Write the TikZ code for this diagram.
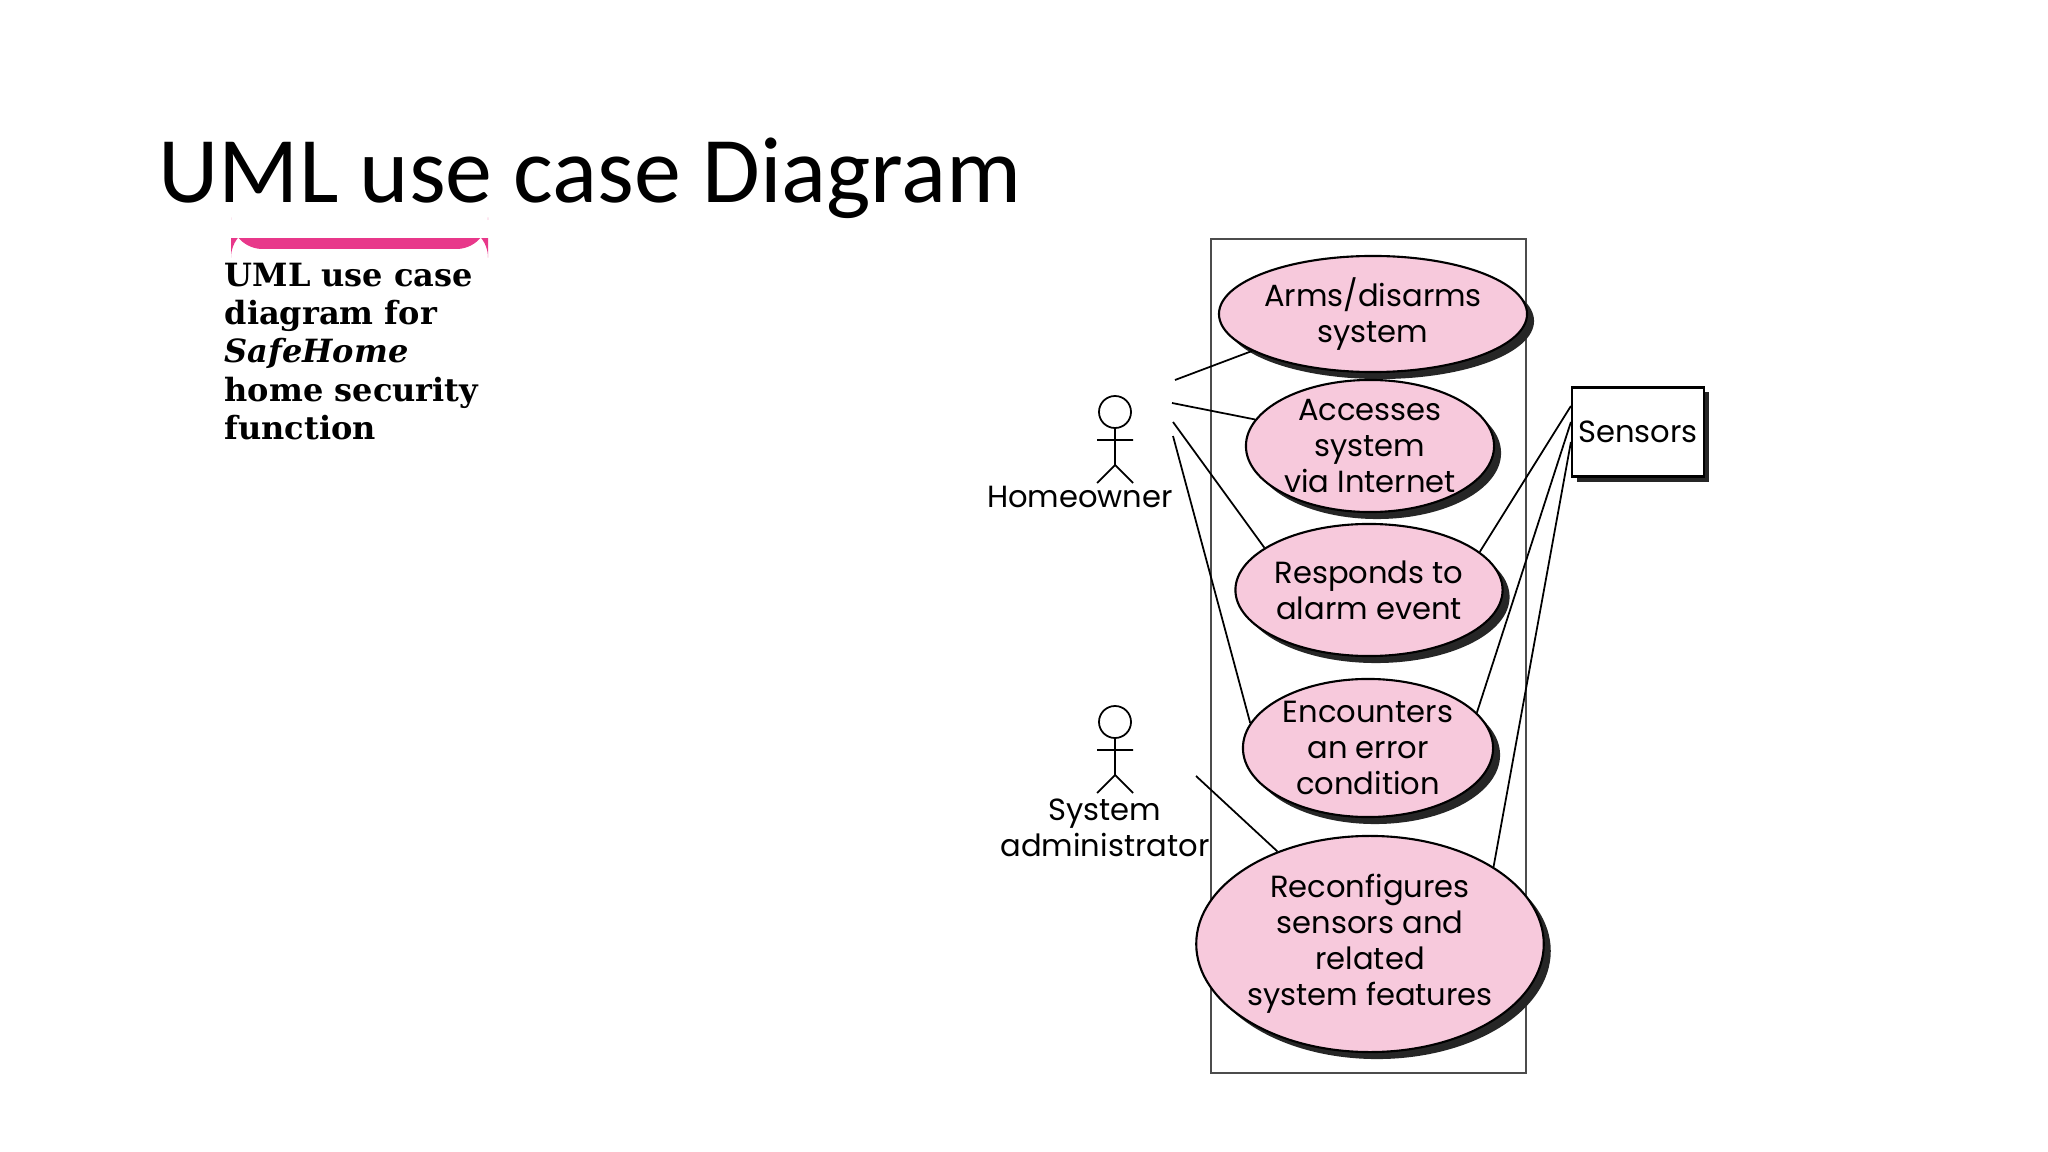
\documentclass[tikz,border=0pt]{standalone}
\usepackage{fontspec}
\setmainfont{Carlito}
\newfontfamily\ucfont{Poppins}
\newfontfamily\capfont{DejaVu Serif}
\usetikzlibrary{shapes.geometric,shadows}
\definecolor{ucpink}{HTML}{F7C9DC}
\definecolor{barpink}{HTML}{E8388A}
\begin{document}
\begin{tikzpicture}[x=0.01cm,y=-0.01cm,
  uc/.style={ellipse,draw=black,line width=0.6pt,fill=ucpink,align=center,font=\ucfont\fontsize{8.7}{10.2}\selectfont,inner sep=0pt,
    drop shadow={shadow xshift=0.07cm,shadow yshift=-0.07cm,fill=black!85,opacity=1}},
  ln/.style={line width=0.5pt},
  actorlbl/.style={font=\ucfont\fontsize{8.7}{10.2}\selectfont,align=center}]
\useasboundingbox (0,0) rectangle (2048,1152);
\node[anchor=west,font=\fontsize{26.7}{32}\selectfont,inner sep=0pt] (title) at (158,178) {UML use case Diagram};
\fill[barpink,rounded corners=9] (231,226) rectangle (488,249);
\fill[white] (225,220) rectangle (495,238);
\node[anchor=north west,align=left,font=\capfont\bfseries\fontsize{9.1}{10.9}\selectfont,inner sep=0pt] (cap) at (224,262)
  {UML use case\\diagram for\\\textit{SafeHome}\\home security\\function};
\draw[line width=0.7pt,black!70] (1211,239) rectangle (1526,1073);
\node[uc,minimum width=2.48cm,minimum height=1.16cm] (e1) at (1373,314) {Arms/disarms\\system};
\node[uc,minimum width=2.48cm,minimum height=1.32cm] (e2) at (1370,446) {Accesses\\system\\via Internet};
\node[uc,minimum width=2.48cm,minimum height=1.32cm] (e3) at (1369,590) {Responds to\\alarm event};
\node[uc,minimum width=2.50cm,minimum height=1.38cm] (e4) at (1368,748) {Encounters\\an error\\condition};
\node[uc,minimum width=2.90cm,minimum height=2.16cm] (e5) at (1370,944) {Reconfigures\\sensors and\\related\\system features};
\node[draw,line width=0.6pt,fill=white,minimum width=1.32cm,minimum height=0.89cm,inner sep=0pt,font=\ucfont\fontsize{8.7}{10.2}\selectfont,
  drop shadow={shadow xshift=0.05cm,shadow yshift=-0.05cm,fill=black!85,opacity=1}] (sens) at (1638,432) {Sensors};
% actors
\foreach \n/\y in {h/412,s/722}{
  \draw[line width=0.5pt] (1115,\y) circle (0.16cm);
  \draw[line width=0.5pt] (1115,\y+16) -- (1115,\y+53) (1097,\y+28) -- (1133,\y+28) (1097,\y+71) -- (1115,\y+53) -- (1133,\y+71);
}
\node[actorlbl] (hl) at (1080,497) {Homeowner};
\node[actorlbl] (sl) at (1105,828) {System\\administrator};
\coordinate (h1) at (1175,380);
\coordinate (h2) at (1172,403);
\coordinate (h3) at (1173,422);
\coordinate (h4) at (1173,436);
\coordinate (s1) at (1196,776);
\coordinate (r1) at (sens.west |- 0,406);
\coordinate (r2) at (sens.west |- 0,422);
\coordinate (r3) at (sens.west |- 0,442);
\draw[ln] (h1) -- (e1.197);
\draw[ln] (h2) -- (e2.167);
\draw[ln] (h3) -- (e3.158);
\draw[ln] (h4) -- (e4.168);
\draw[ln] (s1) -- (e5.135);
\draw[ln] (r1) -- (e3.19);
\draw[ln] (r2) -- (e4.18);
\draw[ln] (r3) -- (e5.32);
\end{tikzpicture}
\end{document}
